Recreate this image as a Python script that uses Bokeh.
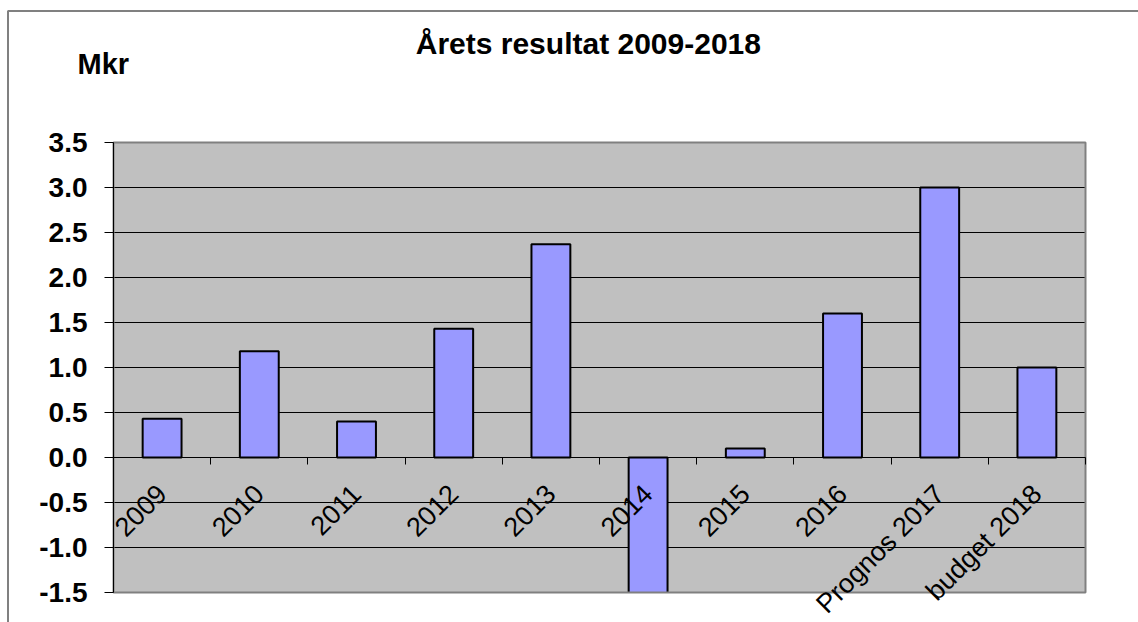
import math
from bokeh.plotting import figure
from bokeh.models import (LinearAxis, FixedTicker, PrintfTickFormatter, Label,
                          Range1d, BoxAnnotation)
from bokeh.embed import file_html
from bokeh.resources import INLINE

# ---- data ----
categories = ["2009", "2010", "2011", "2012", "2013", "2014", "2015", "2016",
              "Prognos 2017", "budget 2018"]
values = [0.43, 1.18, 0.40, 1.43, 2.37, -1.6, 0.10, 1.60, 3.00, 1.00]
y_ticks = [-1.5, -1.0, -0.5, 0.0, 0.5, 1.0, 1.5, 2.0, 2.5, 3.0, 3.5]
title_text = "Årets resultat  2009-2018"
unit_text = "Mkr"

n = len(categories)
centers = [i + 0.5 for i in range(n)]
bounds = [float(i) for i in range(n + 1)]
y_min, y_max = y_ticks[0], y_ticks[-1]

FONT = "Liberation Sans"

# layout (pixels): plot area from x=113..1085, y=142..592 in a 1138x622 canvas
W, H = 1138, 622
PL, PR, PT, PB = 113, 1085, 142, 592
sx = (PR - PL) / n            # px per category
sy = (PB - PT) / (y_max - y_min)  # px per unit
x_lo = -PL / sx
x_hi = n + (W - PR) / sx
y_hi = y_max + PT / sy
y_lo = y_min - (H - PB) / sy

p = figure(width=W, height=H, output_backend="svg", toolbar_location=None,
           title=None, x_range=Range1d(x_lo, x_hi), y_range=Range1d(y_lo, y_hi),
           x_axis_location=None, y_axis_location=None, min_border=0)
p.background_fill_color = "white"
p.border_fill_color = "white"
p.outline_line_color = None
p.xgrid.visible = False
p.ygrid.visible = False

# plot area background
p.quad(left=[0], right=[n], bottom=[y_min], top=[y_max],
       fill_color="#C0C0C0", line_color=None)
# horizontal grid lines
p.segment(x0=[0] * len(y_ticks), x1=[n] * len(y_ticks), y0=y_ticks, y1=y_ticks,
          line_color="black", line_width=1)
# bars
p.vbar(x=centers, top=values, bottom=0, width=0.4,
       fill_color="#9999FF", line_color="black", line_width=2)
# clip below plot area
p.quad(left=[x_lo], right=[x_hi], bottom=[y_lo], top=[y_min],
       fill_color="white", line_color=None)
# plot area border
p.quad(left=[0], right=[n], bottom=[y_min], top=[y_max],
       fill_color=None, line_color="#808080", line_width=2)

# outer chart border (left and top edges)
p.add_layout(BoxAnnotation(left=x_lo + 7.5 / sx, right=x_hi + 5, top=y_hi - 10.5 / sy,
                           bottom=y_lo - 5, fill_color=None, fill_alpha=0,
                           line_color="#808080", line_alpha=1.0, line_width=2))

# y axis
ya = LinearAxis(ticker=FixedTicker(ticks=y_ticks),
                formatter=PrintfTickFormatter(format="%.1f"))
ya.fixed_location = 0
ya.bounds = (y_min, y_max)
ya.major_tick_out = 9
ya.major_tick_in = 0
ya.minor_tick_line_color = None
ya.axis_line_color = "black"
ya.major_tick_line_color = "black"
ya.major_label_text_font = FONT
ya.major_label_text_font_style = "bold"
ya.major_label_text_font_size = "28px"
ya.major_label_text_color = "black"
ya.major_label_standoff = 17
p.add_layout(ya, "left")

# x axis line with category boundary ticks at y = 0
xt = LinearAxis(ticker=FixedTicker(ticks=bounds))
xt.fixed_location = 0
xt.bounds = (0, n)
xt.major_tick_out = 7
xt.major_tick_in = 0
xt.minor_tick_line_color = None
xt.axis_line_color = "black"
xt.major_tick_line_color = "black"
xt.major_label_text_alpha = 0
p.add_layout(xt, "below")

# category labels (rotated)
xl = LinearAxis(ticker=FixedTicker(ticks=centers))
xl.fixed_location = 0
xl.major_label_overrides = {c: lab for c, lab in zip(centers, categories)}
xl.major_tick_line_color = None
xl.minor_tick_line_color = None
xl.axis_line_color = None
xl.major_tick_out = 0
xl.major_tick_in = 0
xl.major_label_orientation = math.pi / 4
xl.major_label_standoff = 32
xl.major_label_text_font = FONT
xl.major_label_text_font_size = "27px"
xl.major_label_text_color = "black"
p.add_layout(xl, "below")

# title and unit label
p.add_layout(Label(x=(592 - PL) / sx, y=y_max + (PT - 43) / sy, text=title_text,
                   text_align="center", text_baseline="middle",
                   text_font=FONT, text_font_style="bold",
                   text_font_size="30px", text_color="black"))
p.add_layout(Label(x=(77 - PL) / sx, y=y_max + (PT - 63) / sy, text=unit_text,
                   text_align="left", text_baseline="middle",
                   text_font=FONT, text_font_style="bold",
                   text_font_size="29px", text_color="black"))

open("out.html", "w").write(file_html(p, INLINE))
